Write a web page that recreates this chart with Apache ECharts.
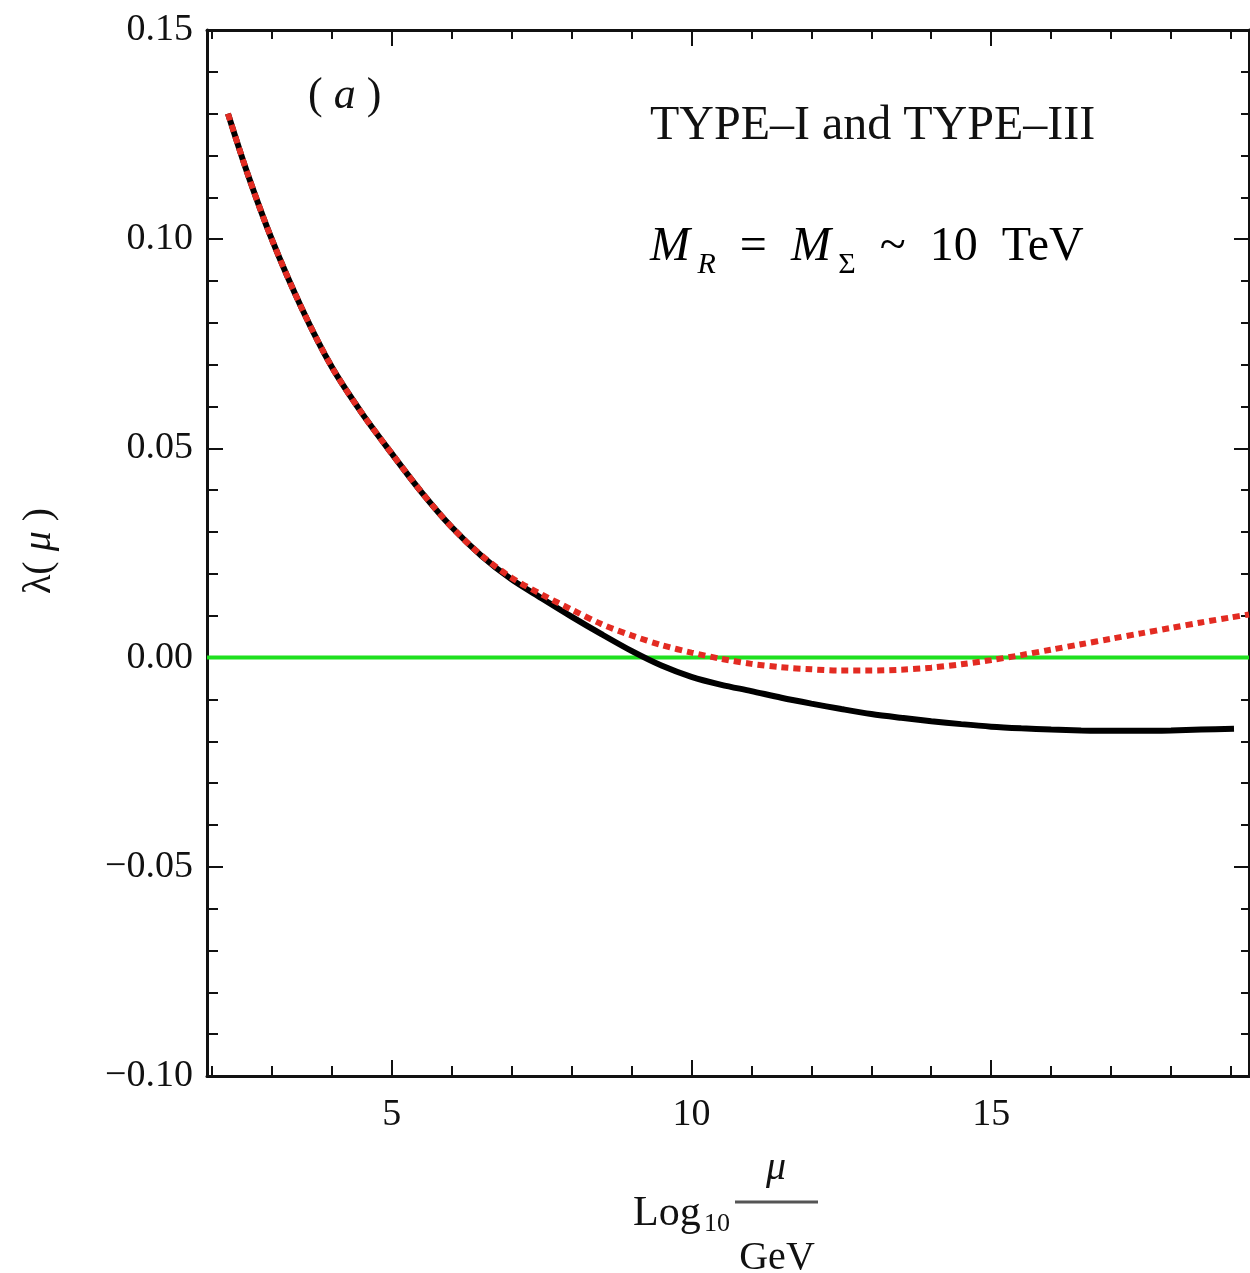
<!DOCTYPE html>
<html>
<head>
<meta charset="utf-8">
<script src="https://cdn.jsdelivr.net/npm/echarts@6/dist/echarts.min.js"></script>
<style>
  html, body { margin: 0; padding: 0; background: #fff; }
  #chart { width: 1250px; height: 1273px; }
</style>
</head>
<body>
<div id="chart"></div>
<script>
// x = Log10(mu / GeV)
const X_MIN = 1.92
const X_MAX = 19.3

const xMajor = [5, 10, 15]
const xMinor = [2, 3, 4, 6, 7, 8, 9, 11, 12, 13, 14, 16, 17, 18, 19]
const yMajor = [-0.1, -0.05, 0, 0.05, 0.1, 0.15]
const yMinor = [-0.09, -0.08, -0.07, -0.06, -0.04, -0.03, -0.02, -0.01,
  0.01, 0.02, 0.03, 0.04, 0.06, 0.07, 0.08, 0.09, 0.11, 0.12, 0.13, 0.14]

// solid black curve
const logMuSolid = [2.27, 2.6, 3.0, 3.5, 4.0, 4.5, 5.0, 5.5, 6.0, 6.5, 7.0, 7.5, 8.0, 8.5, 9.0, 9.5,
  10.0, 10.5, 11.0, 11.5, 12.0, 12.5, 13.0, 13.5, 14.0, 14.5, 15.0, 15.5, 16.0, 16.5, 17.0, 17.5,
  18.0, 18.5, 19.05]
const lambdaSolid = [0.130, 0.1155, 0.100, 0.0835, 0.0695, 0.0585, 0.0488, 0.0395, 0.0312, 0.0243,
  0.0187, 0.0142, 0.0098, 0.0056, 0.0016, -0.0019, -0.0046, -0.0065, -0.0080, -0.0096, -0.0110,
  -0.0123, -0.0135, -0.0144, -0.0152, -0.0159, -0.0165, -0.0169, -0.0172, -0.0174, -0.0175,
  -0.0175, -0.0174, -0.0172, -0.0170]

// red dotted curve
const logMuDotted = [2.27, 2.6, 3.0, 3.5, 4.0, 4.5, 5.0, 5.5, 6.0, 6.5, 7.0, 7.5, 8.0, 8.5, 9.0, 9.5,
  10.0, 10.5, 11.0, 11.5, 12.0, 12.5, 13.0, 13.5, 14.0, 14.5, 15.0, 15.5, 16.0, 16.5, 17.0, 17.5,
  18.0, 18.5, 19.0, 19.3]
const lambdaDotted = [0.130, 0.1155, 0.100, 0.0835, 0.0695, 0.0585, 0.0488, 0.0395, 0.0312, 0.0244,
  0.0191, 0.0151, 0.0115, 0.0080, 0.0053, 0.0030, 0.0012, -0.0003, -0.0015, -0.0023, -0.0028,
  -0.0031, -0.0031, -0.0029, -0.0024, -0.0016, -0.0006, 0.0006, 0.0019, 0.0032, 0.0045, 0.0058,
  0.0071, 0.0084, 0.0096, 0.0103]

const FONT = '"Liberation Serif", "DejaVu Serif", serif'
const INK = '#111'
const frameLine = { color: '#111', width: 3 }
const tickLine = { color: '#111', width: 2 }

const zip = (xs, ys) => xs.map((x, i) => [x, ys[i]])

function xAx(position, ticks, len, withLine, withLabel) {
  return {
    type: 'value', position, min: X_MIN, max: X_MAX,
    axisLine: { show: withLine, onZero: false, lineStyle: frameLine },
    axisTick: { show: true, inside: true, length: len, customValues: ticks, lineStyle: tickLine },
    axisLabel: withLabel ? {
      show: true, customValues: ticks, margin: 20,
      fontFamily: FONT, fontSize: 38, color: INK,
    } : { show: false },
    splitLine: { show: false },
  }
}

function yAx(position, ticks, len, withLine, withLabel) {
  return {
    type: 'value', position, min: -0.1, max: 0.15,
    axisLine: { show: withLine, onZero: false, lineStyle: frameLine },
    axisTick: { show: true, inside: true, length: len, customValues: ticks, lineStyle: tickLine },
    axisLabel: withLabel ? {
      show: true, customValues: ticks, margin: 14,
      fontFamily: FONT, fontSize: 38, color: INK,
      formatter: v => (v < -1e-9 ? '\u2212' : '') + Math.abs(v).toFixed(2),
    } : { show: false },
    splitLine: { show: false },
  }
}

const chart = echarts.init(document.getElementById('chart'))

chart.setOption({
  animation: false,
  grid: { left: 207, top: 30, width: 1042, height: 1046, containLabel: false },
  xAxis: [
    xAx('bottom', xMajor, 16, true, true),
    xAx('bottom', xMinor, 10, false, false),
    xAx('top', xMajor, 16, true, false),
    xAx('top', xMinor, 9, false, false),
  ],
  yAxis: [
    yAx('left', yMajor, 16, true, true),
    yAx('left', yMinor, 11, false, false),
    yAx('right', yMajor, 15, true, false),
    yAx('right', yMinor, 8, false, false),
  ],
  series: [
    {
      name: 'zero', type: 'line', xAxisIndex: 0, yAxisIndex: 0,
      data: [[X_MIN, 0], [X_MAX, 0]],
      showSymbol: false, silent: true,
      lineStyle: { color: '#1fe01f', width: 4 },
    },
    {
      name: 'solid', type: 'line', xAxisIndex: 0, yAxisIndex: 0,
      data: zip(logMuSolid, lambdaSolid),
      smooth: 0.3, showSymbol: false,
      lineStyle: { color: '#000', width: 6 },
    },
    {
      name: 'dotted', type: 'line', xAxisIndex: 0, yAxisIndex: 0,
      data: zip(logMuDotted, lambdaDotted),
      smooth: 0.3, showSymbol: false,
      lineStyle: { color: '#e32b22', width: 6, type: [7, 5], cap: 'butt' },
    },
  ],
  graphic: [
    {
      type: 'text', left: 308, top: 74,
      style: {
        text: '( {i|a} )', font: '44px ' + FONT, fill: INK,
        rich: { i: { fontStyle: 'italic', fontSize: 44, fontFamily: FONT, fill: INK } },
      },
    },
    {
      type: 'text', x: 650, y: 126,
      style: {
        text: 'TYPE\u2013I and TYPE\u2013III', font: '48px ' + FONT, fill: INK,
        textVerticalAlign: 'middle',
      },
    },
    {
      type: 'text', x: 650, y: 247,
      style: {
        text: '{m|M}{s| R}{n|  =  }{m|M}{t| \u03a3}{n|  ~  10  TeV}',
        textVerticalAlign: 'middle',
        rich: {
          m: { fontFamily: FONT, fontSize: 48, fontStyle: 'italic', lineHeight: 66, color: INK },
          n: { fontFamily: FONT, fontSize: 48, lineHeight: 66, color: INK },
          s: { fontFamily: FONT, fontSize: 30, fontStyle: 'italic', lineHeight: 30, verticalAlign: 'bottom', color: INK },
          t: { fontFamily: FONT, fontSize: 30, lineHeight: 30, verticalAlign: 'bottom', color: INK },
        },
      },
    },
    {
      type: 'text', x: 39, y: 551, rotation: Math.PI / 2,
      style: {
        text: '\u03bb( {i|\u03bc} )', font: '40px ' + FONT, fill: INK,
        textAlign: 'center', textVerticalAlign: 'middle',
        rich: { i: { fontStyle: 'italic', fontSize: 40, fontFamily: FONT, fill: INK } },
      },
    },
    {
      type: 'text', x: 633, y: 1214,
      style: { text: 'Log', font: '42px ' + FONT, fill: INK, textVerticalAlign: 'middle' },
    },
    {
      type: 'text', x: 704, y: 1224,
      style: { text: '10', font: '26px ' + FONT, fill: INK, textVerticalAlign: 'middle' },
    },
    {
      type: 'text', x: 776, y: 1168,
      style: {
        text: '\u03bc', font: 'italic 40px ' + FONT, fill: INK,
        textAlign: 'center', textVerticalAlign: 'middle',
      },
    },
    {
      type: 'line', shape: { x1: 735, y1: 1202, x2: 818, y2: 1202 },
      style: { stroke: '#555', lineWidth: 3 },
    },
    {
      type: 'text', x: 777, y: 1258,
      style: {
        text: 'GeV', font: '40px ' + FONT, fill: INK,
        textAlign: 'center', textVerticalAlign: 'middle',
      },
    },
  ],
})
</script>
</body>
</html>
